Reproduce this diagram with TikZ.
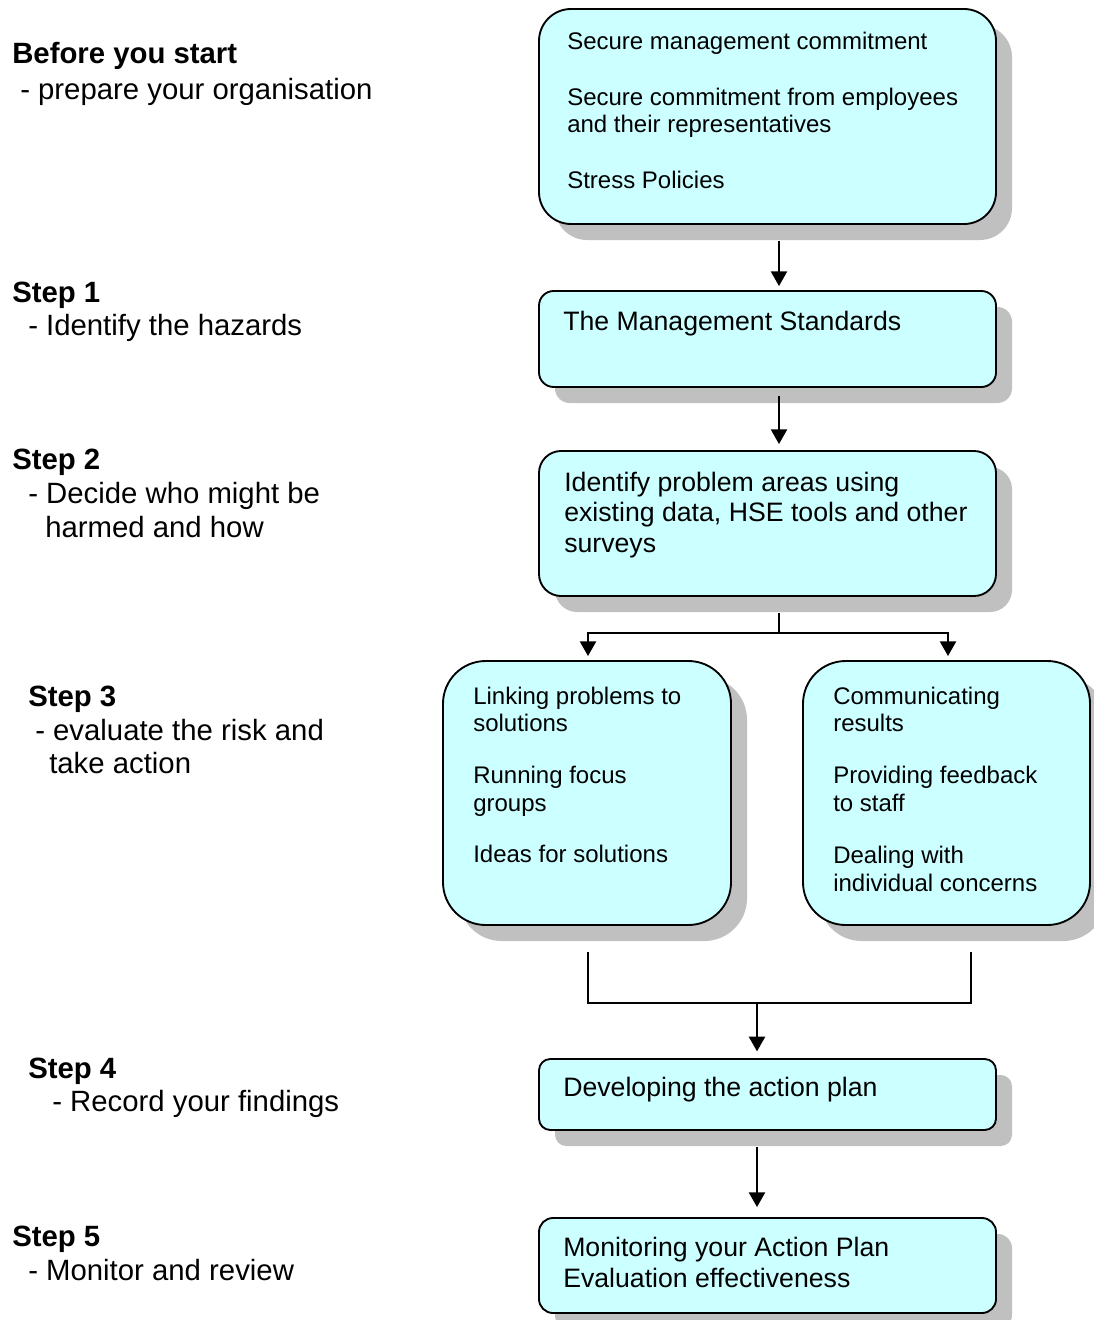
\documentclass[tikz,border=0pt]{standalone}
\usepackage{fontspec}
\setmainfont{Liberation Sans}
\usetikzlibrary{shadows,arrows.meta,calc}
\definecolor{boxfill}{HTML}{CCFFFF}
\definecolor{shadowgray}{HTML}{C0C0C0}
\begin{document}
\begin{tikzpicture}[x=0.75pt,y=-0.75pt,
  box/.style={draw=black, line width=1.4pt, fill=boxfill, inner sep=0pt,
    drop shadow={shadow xshift=12pt, shadow yshift=-12pt, fill=shadowgray, opacity=1}},
  lbl/.style={anchor=base west, inner sep=0pt, font=\fontsize{22}{26}\selectfont},
  lblb/.style={anchor=base west, inner sep=0pt, font=\fontsize{22}{26}\selectfont\bfseries},
  tsm/.style={anchor=base west, inner sep=0pt, font=\fontsize{18}{21}\selectfont},
  tmd/.style={anchor=base west, inner sep=0pt, font=\fontsize{20}{23}\selectfont},
  conn/.style={line width=1.5pt},
  arr/.style={conn, -{Triangle[width=12pt,length=11pt]}},
]
\fill[white] (0,0) rectangle (1094,1320);
\useasboundingbox (0,0) rectangle (1094,1320);

% ---------- left labels ----------
\node[lblb] (l0a) at (12,64) {Before you start};
\node[lbl]  (l0b) at (20,99) {- prepare your organisation};
\node[lblb] (l1a) at (12,302) {Step 1};
\node[lbl]  (l1b) at (28,335) {- Identify the hazards};
\node[lblb] (l2a) at (12,469) {Step 2};
\node[lbl]  (l2b) at (28,503) {- Decide who might be};
\node[lbl]  (l2c) at (45,537) {harmed and how};
\node[lblb] (l3a) at (28,706) {Step 3};
\node[lbl]  (l3b) at (35,740) {- evaluate the risk and};
\node[lbl]  (l3c) at (49,773) {take action};
\node[lblb] (l4a) at (28,1078) {Step 4};
\node[lbl]  (l4b) at (52,1111) {- Record your findings};
\node[lblb] (l5a) at (12,1246) {Step 5};
\node[lbl]  (l5b) at (28,1280) {- Monitor and review};

% ---------- boxes ----------
\node[box, rounded corners=24pt, minimum width=342.75pt, minimum height=161.25pt] (b1) at (767.5,116.5) {};
\node[box, rounded corners=11pt, minimum width=342.75pt, minimum height=72pt] (b2) at (767.5,339) {};
\node[box, rounded corners=16.5pt, minimum width=342.75pt, minimum height=108.75pt] (b3) at (767.5,523.5) {};
\node[box, rounded corners=32pt, minimum width=216pt, minimum height=198pt] (b4l) at (587,793) {};
\node[box, rounded corners=32pt, minimum width=215.25pt, minimum height=198pt] (b4r) at (946.5,793) {};
\node[box, rounded corners=8.5pt, minimum width=342.75pt, minimum height=53.25pt] (b5) at (767.5,1094.5) {};
\node[box, rounded corners=10.5pt, minimum width=342.75pt, minimum height=71.25pt] (b6) at (767.5,1265.5) {};

% ---------- box texts ----------
\node[tsm] (t1a) at (567,50) {Secure management commitment};
\node[tsm] (t1b) at (567,105) {Secure commitment from employees};
\node[tsm] (t1c) at (567,132) {and their representatives};
\node[tsm] (t1d) at (567,188) {Stress Policies};

\node[tmd] (t2a) at (563,330) {The Management Standards};

\node[tmd] (t3a) at (564,491) {Identify problem areas using};
\node[tmd] (t3b) at (564,521) {existing data, HSE tools and other};
\node[tmd] (t3c) at (564,552) {surveys};

\node[tsm] (t4a) at (473,704) {Linking problems to};
\node[tsm] (t4b) at (473,731) {solutions};
\node[tsm] (t4c) at (473,783) {Running focus};
\node[tsm] (t4d) at (473,811) {groups};
\node[tsm] (t4e) at (473,862) {Ideas for solutions};

\node[tsm] (t5a) at (833,704) {Communicating};
\node[tsm] (t5b) at (833,731) {results};
\node[tsm] (t5c) at (833,783) {Providing feedback};
\node[tsm] (t5d) at (833,811) {to staff};
\node[tsm] (t5e) at (833,863) {Dealing with};
\node[tsm] (t5f) at (833,891) {individual concerns};

\node[tmd] (t6a) at (563,1096) {Developing the action plan};

\node[tmd] (t7a) at (563,1256) {Monitoring your Action Plan};
\node[tmd] (t7b) at (563,1287) {Evaluation effectiveness};

% ---------- connectors ----------
\draw[arr, shorten >=3pt] ($(b1.south)+(11.5,16)$) -- ($(b2.north)+(11.5,0)$);
\draw[arr, shorten >=4.5pt] ($(b2.south)+(11.5,8)$) -- ($(b3.north)+(11.5,0)$);

\coordinate (split) at (779,633);
\draw[conn] ($(b3.south)+(11.5,16)$) -- (split);
\draw[arr, shorten >=3pt] (split) -| ($(b4l.north)+(1,0)$);
\draw[arr, shorten >=3pt] (split) -| ($(b4r.north)+(1.5,0)$);

\coordinate (mL) at (588,952);
\coordinate (mR) at (971,952);
\coordinate (mJ) at (757,1003);
\draw[conn] (mL) |- (mR |- mJ) -- (mR);
\draw[arr, shorten >=5pt] (mJ) -- (mJ |- b5.north);

\draw[arr, shorten >=7.5pt] ($(b5.south)+(-10.5,16)$) -- ($(b6.north)+(-10.5,0)$);
\end{tikzpicture}
\end{document}
